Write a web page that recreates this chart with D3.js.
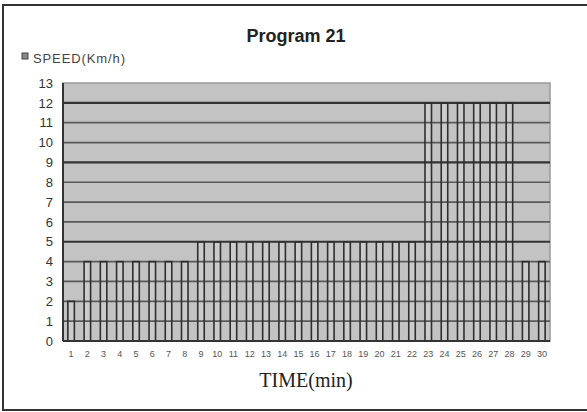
<!DOCTYPE html>
<html><head><meta charset="utf-8">
<script src="https://cdn.jsdelivr.net/npm/d3@7"></script>
<style>html,body{margin:0;padding:0;background:#fff;}svg{display:block;}</style>
</head><body>
<svg id="c" width="587" height="412"></svg>
<script>
const minutes = d3.range(1, 31).map(String);
const speed = [2,4,4,4,4,4,4,4,5,5,5,5,5,5,5,5,5,5,5,5,5,5,12,12,12,12,12,12,4,4];
const yTicks = d3.range(0, 14);
const title = "Program 21";
const legendLabel = "SPEED(Km/h)";
const xTitle = "TIME(min)";

const svg = d3.select("#c");
const L = 63, R = 550, T = 83, B = 341;

// outer frame
svg.append("path").attr("d", "M600,5 H3 V410 H600").attr("fill", "none").attr("stroke", "#333").attr("stroke-width", 2);

const x = d3.scaleBand().domain(minutes).range([L, R]).paddingInner(0.6).paddingOuter(0.3);
const y = d3.scaleLinear().domain([0, 13]).range([B, T]);

// plot background
svg.append("rect").attr("x", L).attr("y", T).attr("width", R - L).attr("height", B - T)
  .attr("fill", "#c3c3c3").attr("stroke", "#9a9a9a").attr("stroke-width", 1.5);

// bars fill
svg.append("g").selectAll("rect").data(speed).join("rect")
  .attr("x", (d, i) => x(minutes[i])).attr("y", d => y(d))
  .attr("width", x.bandwidth()).attr("height", d => B - y(d))
  .attr("fill", "#cbcbcb");

// gridlines
svg.append("g").selectAll("line").data(yTicks.filter(v => v > 0 && v < 13)).join("line")
  .attr("x1", L).attr("x2", R).attr("y1", d => y(d)).attr("y2", d => y(d))
  .attr("stroke", d => (d === 12 || d === 9 || d === 5) ? "#333" : "#5a5a5a")
  .attr("stroke-width", d => (d === 12 || d === 9 || d === 5) ? 2.2 : 1.7);

// bar outlines
svg.append("g").selectAll("rect").data(speed).join("rect")
  .attr("x", (d, i) => x(minutes[i])).attr("y", d => y(d))
  .attr("width", x.bandwidth()).attr("height", d => B - y(d))
  .attr("fill", "none").attr("stroke", "#2e2e2e").attr("stroke-width", 1.6);

// axes lines
svg.append("line").attr("x1", L).attr("x2", L).attr("y1", T).attr("y2", B).attr("stroke", "#333").attr("stroke-width", 2);
svg.append("line").attr("x1", L).attr("x2", R).attr("y1", B).attr("y2", B).attr("stroke", "#333").attr("stroke-width", 2);

// y axis labels
const yAxis = d3.axisLeft(y).tickValues(yTicks).tickSize(0).tickPadding(10).tickFormat(d3.format("d"));
const ya = svg.append("g").attr("transform", `translate(${L},0)`).call(yAxis);
ya.select(".domain").remove();
ya.selectAll("text").attr("font-family", "Liberation Sans, Arial, sans-serif").attr("font-size", 13).attr("fill", "#333");

// x axis labels
const xAxis = d3.axisBottom(x).tickSize(0).tickPadding(10);
const xa = svg.append("g").attr("transform", `translate(0,${B})`).call(xAxis);
xa.select(".domain").remove();
xa.selectAll("text").attr("font-family", "Liberation Sans, Arial, sans-serif").attr("font-size", 9).attr("fill", "#555");

// title
svg.append("text").attr("x", 296).attr("y", 42).attr("text-anchor", "middle")
  .attr("font-family", "Liberation Sans, Arial, sans-serif").attr("font-weight", "bold").attr("font-size", 18)
  .attr("fill", "#222").text(title);

// legend
svg.append("rect").attr("x", 22).attr("y", 53).attr("width", 6).attr("height", 6).attr("fill", "#888").attr("stroke", "#444");
svg.append("text").attr("x", 33).attr("y", 63).attr("font-family", "Liberation Sans, Arial, sans-serif").attr("font-size", 13)
  .attr("textLength", 92).attr("fill", "#444").text(legendLabel);

// x title
svg.append("text").attr("x", 306).attr("y", 387).attr("text-anchor", "middle")
  .attr("font-family", "Liberation Serif, Times New Roman, serif").attr("font-size", 20)
  .attr("fill", "#222").text(xTitle);
</script>
</body></html>
